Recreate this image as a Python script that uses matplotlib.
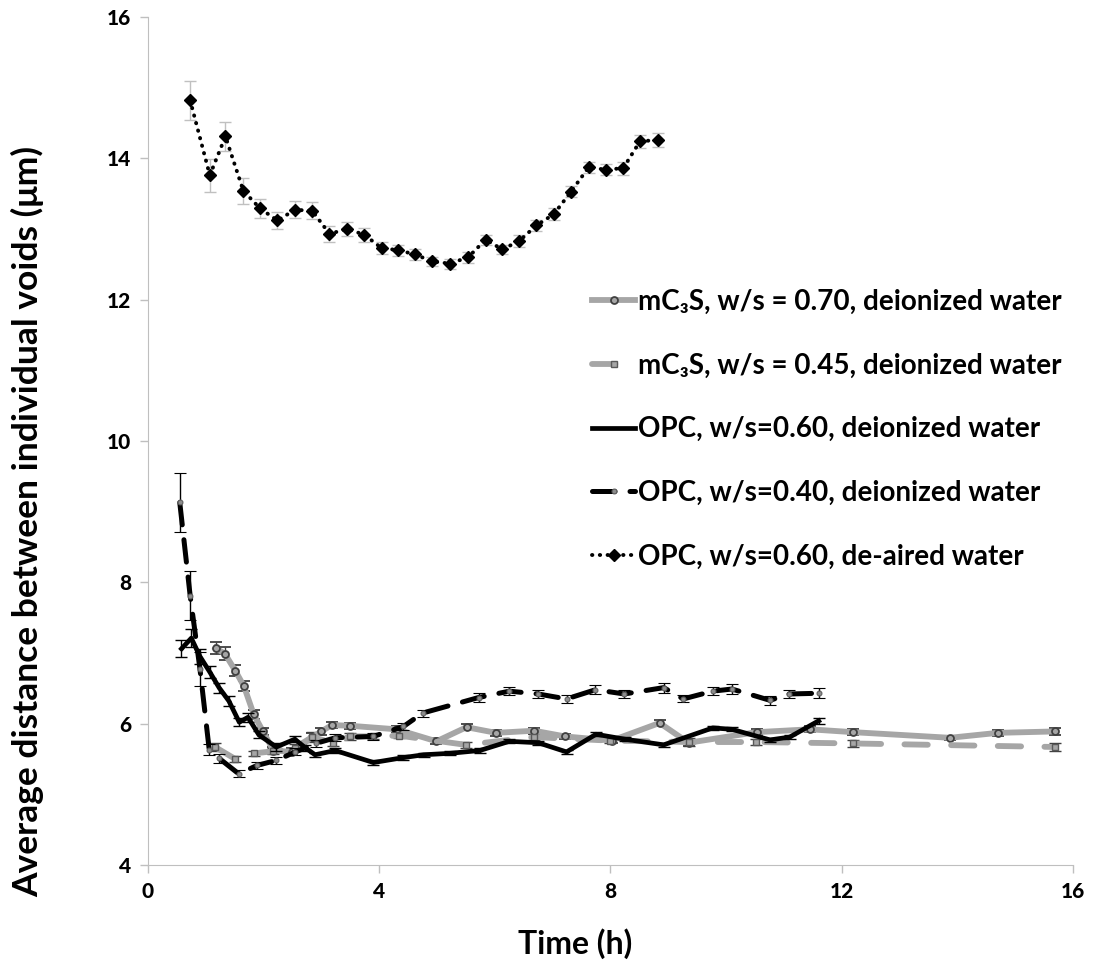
import matplotlib
matplotlib.use("Agg")
import matplotlib.pyplot as plt
from matplotlib.lines import Line2D

plt.rcParams['font.family'] = ['Lato', 'DejaVu Sans']
plt.rcParams['font.weight'] = 'bold'

# mC3S, w/s = 0.70, deionized water
t_c70 = [1.17, 1.33, 1.51, 1.66, 1.83, 1.99, 2.17, 2.50, 2.84, 3.00, 3.18, 3.50,
         4.30, 4.99, 5.51, 6.02, 6.68, 7.21, 8.02, 8.85, 9.35, 10.53, 11.45,
         12.19, 13.87, 14.70, 15.69]
d_c70 = [7.07, 6.99, 6.75, 6.53, 6.13, 5.89, 5.62, 5.60, 5.81, 5.89, 5.98, 5.97,
         5.92, 5.75, 5.95, 5.87, 5.90, 5.82, 5.76, 6.01, 5.73, 5.88, 5.92,
         5.88, 5.80, 5.87, 5.89]
e_c70 = [0.09, 0.09, 0.08, 0.07, 0.06, 0.05, 0.05, 0.05, 0.06, 0.05, 0.04, 0.04,
         0.04, 0.04, 0.04, 0.04, 0.04, 0.04, 0.03, 0.04, 0.04, 0.04, 0.04,
         0.04, 0.03, 0.04, 0.05]

# mC3S, w/s = 0.45, deionized water
t_c45 = [1.16, 1.51, 1.84, 2.17, 2.54, 2.84, 3.20, 3.50, 3.90, 4.35, 5.50, 6.68,
         8.00, 9.36, 10.52, 12.19, 15.69]
d_c45 = [5.67, 5.50, 5.58, 5.61, 5.66, 5.81, 5.73, 5.82, 5.82, 5.83, 5.70, 5.81,
         5.76, 5.74, 5.74, 5.72, 5.67]
e_c45 = [0.06, 0.04, 0.04, 0.04, 0.05, 0.07, 0.05, 0.05, 0.04, 0.04, 0.04, 0.04,
         0.04, 0.05, 0.04, 0.05, 0.05]

# OPC, w/s=0.60, deionized water
t_o60 = [0.58, 0.75, 0.90, 1.07, 1.23, 1.40, 1.58, 1.73, 1.92, 2.22, 2.54, 2.72,
         2.89, 3.24, 3.90, 4.42, 4.77, 5.22, 5.74, 6.25, 6.75, 7.24, 7.75, 8.25,
         8.92, 9.77, 10.10, 10.76, 11.10, 11.60]
d_o60 = [7.06, 7.21, 6.95, 6.73, 6.51, 6.32, 6.02, 6.09, 5.84, 5.67, 5.78, 5.66,
         5.56, 5.62, 5.45, 5.52, 5.56, 5.58, 5.62, 5.75, 5.73, 5.60, 5.85, 5.78,
         5.70, 5.94, 5.92, 5.77, 5.81, 6.04]
e_o60 = [0.12, 0.13, 0.10, 0.08, 0.07, 0.07, 0.06, 0.06, 0.05, 0.05, 0.04, 0.04,
         0.03, 0.03, 0.03, 0.03, 0.03, 0.03, 0.03, 0.03, 0.03, 0.03, 0.03, 0.03,
         0.03, 0.03, 0.03, 0.03, 0.03, 0.04]

# OPC, w/s=0.40, deionized water
t_o40 = [0.55, 0.73, 0.90, 1.06, 1.23, 1.57, 1.89, 2.22, 2.55, 2.90, 3.24, 3.90,
         4.42, 4.75, 5.72, 6.25, 6.75, 7.24, 7.74, 8.24, 8.92, 9.26, 9.77, 10.10,
         10.76, 11.09, 11.60]
d_o40 = [9.13, 7.81, 6.77, 5.63, 5.51, 5.29, 5.41, 5.48, 5.60, 5.72, 5.80, 5.82,
         5.96, 6.15, 6.37, 6.46, 6.42, 6.35, 6.48, 6.42, 6.51, 6.35, 6.46, 6.49,
         6.33, 6.42, 6.43]
e_o40 = [0.42, 0.35, 0.24, 0.08, 0.06, 0.05, 0.05, 0.05, 0.05, 0.05, 0.05, 0.05,
         0.05, 0.05, 0.06, 0.06, 0.06, 0.06, 0.06, 0.06, 0.07, 0.05, 0.06, 0.07,
         0.06, 0.06, 0.07]

# OPC, w/s=0.60, de-aired water
t_air = [0.73, 1.07, 1.34, 1.65, 1.94, 2.24, 2.54, 2.84, 3.14, 3.44, 3.74, 4.04,
         4.33, 4.62, 4.92, 5.22, 5.54, 5.84, 6.13, 6.42, 6.72, 7.02, 7.32, 7.62,
         7.92, 8.22, 8.51, 8.82]
d_air = [14.82, 13.76, 14.31, 13.54, 13.29, 13.12, 13.27, 13.26, 12.93, 13.00,
         12.92, 12.73, 12.70, 12.64, 12.54, 12.51, 12.60, 12.85, 12.71, 12.83,
         13.05, 13.21, 13.53, 13.87, 13.84, 13.86, 14.24, 14.26]
e_air = [0.28, 0.23, 0.21, 0.18, 0.14, 0.12, 0.12, 0.12, 0.11, 0.10, 0.10, 0.08,
         0.08, 0.08, 0.07, 0.07, 0.08, 0.07, 0.07, 0.08, 0.08, 0.08, 0.08, 0.08,
         0.08, 0.09, 0.09, 0.10]

labels = ['mC\u2083S, w/s = 0.70, deionized water',
          'mC\u2083S, w/s = 0.45, deionized water',
          'OPC, w/s=0.60, deionized water',
          'OPC, w/s=0.40, deionized water',
          'OPC, w/s=0.60, de-aired water']

gray = '#a6a6a6'
styles = [
    dict(color=gray, lw=4.2, linestyle='-', marker='o', ms=5, mfc=gray,
         mec='#404040', mew=1.3),
    dict(color=gray, lw=4.2, linestyle=(0, (4, 4)), dash_capstyle='round',
         marker='s', ms=5, mfc=gray, mec='#595959', mew=1),
    dict(color='black', lw=3.4, linestyle='-', marker='_', ms=3),
    dict(color='black', lw=3.6, linestyle=(0, (4.5, 3)), dash_capstyle='round',
         marker='o', ms=3.5, mfc='#8c8c8c', mec='#606060', mew=0.8),
    dict(color='black', lw=2.8, linestyle=(0, (0.1, 1.9)), dash_capstyle='round',
         marker='D', ms=6),
]
ecolors = ['#404040', '#404040', 'black', 'black', '#c0c0c0']
series = [(t_c70, d_c70, e_c70), (t_c45, d_c45, e_c45), (t_o60, d_o60, e_o60),
          (t_o40, d_o40, e_o40), (t_air, d_air, e_air)]
zorders = [2, 2, 4, 3, 3]

fig = plt.figure(figsize=(10.96, 9.64), dpi=100)
ax = fig.add_axes([0.135, 0.1027, 0.844, 0.8797])

for (t, d, e), st, ec, z in zip(series, styles, ecolors, zorders):
    ax.errorbar(t, d, yerr=e, ecolor=ec, elinewidth=1, capsize=4, capthick=1,
                zorder=z, **st)

ax.set_xlim(0, 16)
ax.set_ylim(4, 16)
ax.set_xticks([0, 4, 8, 12, 16])
ax.set_xticklabels(['0', '4', '8', '12', '16'], fontsize=15, fontweight='black')
ax.set_yticks([4, 6, 8, 10, 12, 14, 16])
ax.set_yticklabels(['4', '6', '8', '10', '12', '14', '16'], fontsize=15,
                   fontweight='black')
ax.tick_params(length=6, color='#bfbfbf', width=1, pad=6)
for s in ['top', 'right']:
    ax.spines[s].set_visible(False)
for s in ['left', 'bottom']:
    ax.spines[s].set_color('#bfbfbf')

ax.set_xlabel('Time (h)', fontsize=23, fontweight='bold')
ax.xaxis.set_label_coords(0.462, -0.075)
ax.set_ylabel('Average distance between individual voids (\u03bcm)',
              fontsize=25.5, fontweight='bold')
ax.yaxis.set_label_coords(-0.112, 0.405)

handles = [Line2D([], [], **st) for st in styles]
ax.legend(handles, labels, loc='upper left', bbox_to_anchor=(0.453, 0.709),
          frameon=False, handlelength=1.55, handletextpad=0.1,
          labelspacing=1.36, prop={'weight': 'bold', 'size': 20})

fig.savefig('out.png', dpi=100)
